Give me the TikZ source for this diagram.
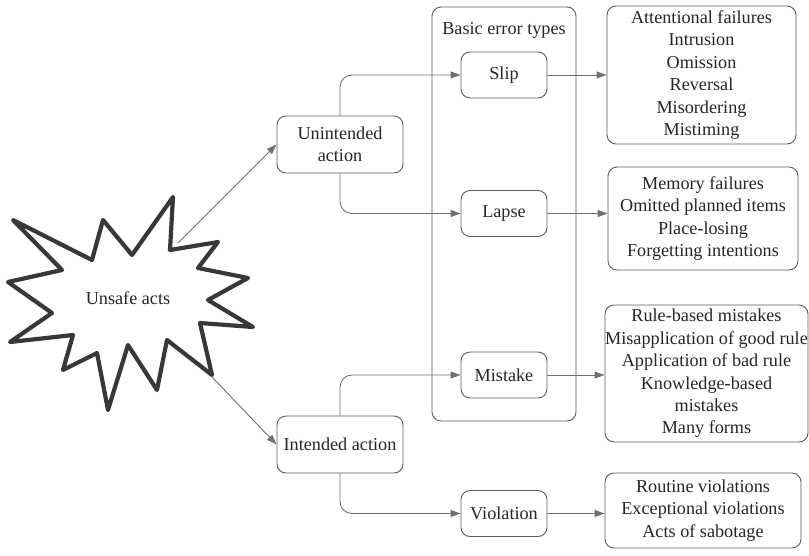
\documentclass[tikz,border=0pt]{standalone}
\usepackage{fontspec}
\setmainfont{Liberation Serif}
\usetikzlibrary{arrows.meta}
\definecolor{inkc}{HTML}{262626}
\definecolor{edgec}{HTML}{5C5C5C}
\definecolor{linec}{HTML}{707070}
\definecolor{burstc}{HTML}{383838}
\begin{document}
\begin{tikzpicture}[x=1pt,y=-1pt,
  txt/.style={font=\fontsize{18.2}{22.4}\selectfont, text=inkc, align=center, inner sep=0pt},
  rbox/.style={txt, draw=edgec, line width=0.9pt, rounded corners=9pt},
  conn/.style={draw=linec, line width=0.9pt, -{Triangle[length=10pt,width=7pt]}, color=linec},
  elbow/.style={conn, rounded corners=12pt}]
\useasboundingbox (0,0) rectangle (809,555);

% starburst with its label
\draw[burstc, line width=4.2pt, line join=round, fill=white]
  (13,220) -- (92,260) -- (103,220) -- (132,255) -- (173,197) -- (170,250)
  -- (218,242) -- (198,268) -- (248,278) -- (208,300) -- (253,327) -- (200,323)
  -- (212,375) -- (167,340) -- (157,390) -- (128,345) -- (108,410) -- (97,353)
  -- (63,370) -- (73,335) -- (10,342) -- (52,313) -- (8,282) -- (62,270) -- cycle;
\node[txt] (unsafe) at (128,298) {Unsafe acts};
\coordinate (burstU) at (178,243);
\coordinate (burstL) at (211,376);

% error-type group frame
\node[draw=edgec, line width=0.9pt, rounded corners=9pt, minimum width=144pt, minimum height=414pt, inner sep=0pt] (group) at (504,214) {};
\node[txt] (grouptitle) at (504,30) {Basic error types};

% action nodes
\node[rbox, minimum width=126pt, minimum height=57pt] (unint) at (340,144.5) {Unintended\\action};
\node[rbox, minimum width=126pt, minimum height=57pt] (intd) at (340,444.5) {Intended action};

% error types
\node[rbox, minimum width=86pt, minimum height=46pt] (slip) at (504,75) {Slip};
\node[rbox, minimum width=86pt, minimum height=46pt] (lapse) at (504,213.5) {Lapse};
\node[rbox, minimum width=86pt, minimum height=46pt] (mistake) at (504,375) {Mistake};
\node[rbox, minimum width=86pt, minimum height=46pt] (violation) at (504,513.5) {Violation};

% detail boxes
\node[rbox, minimum width=189pt, minimum height=138pt] (att) at (701.5,75) {Attentional failures\\Intrusion\\Omission\\Reversal\\Misordering\\Mistiming};
\node[rbox, minimum width=190pt, minimum height=103pt] (mem) at (703,218.5) {Memory failures\\Omitted planned items\\Place-losing\\Forgetting intentions};
\node[rbox, minimum width=203pt, minimum height=137pt] (rule) at (706.5,373.5) {Rule-based mistakes\\Misapplication of good rule\\Application of bad rule\\Knowledge-based\\mistakes\\Many forms};
\node[rbox, minimum width=196pt, minimum height=75pt] (viol) at (703,510.5) {Routine violations\\Exceptional violations\\Acts of sabotage};

% connectors
\draw[conn] (burstU) -- (unint.west);
\draw[conn] (burstL) -- (intd.west);
\draw[elbow] (unint.north) |- (slip.west);
\draw[elbow] (unint.south) |- (lapse.west);
\draw[elbow] (intd.north) |- (mistake.west);
\draw[elbow] (intd.south) |- (violation.west);
\draw[conn] (slip.east) -- (slip.east -| att.west);
\draw[conn] (lapse.east) -- (lapse.east -| mem.west);
\draw[conn] (mistake.east) -- (mistake.east -| rule.west);
\draw[conn] (violation.east) -- (violation.east -| viol.west);
\end{tikzpicture}
\end{document}
